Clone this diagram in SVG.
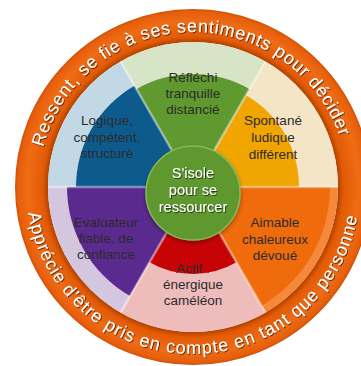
<svg xmlns="http://www.w3.org/2000/svg" width="361" height="366" viewBox="0 0 361 366">
<defs>
  <radialGradient id="ringGrad" gradientUnits="userSpaceOnUse" cx="193" cy="187" r="178">
    <stop offset="0.815" stop-color="#b04300"/>
    <stop offset="0.845" stop-color="#e25a06"/>
    <stop offset="0.93" stop-color="#f06c14"/>
    <stop offset="0.985" stop-color="#e65e0c"/>
    <stop offset="1" stop-color="#cf5006"/>
  </radialGradient>
  <filter id="shadow" x="-10%" y="-10%" width="120%" height="120%">
    <feDropShadow dx="0.8" dy="0.8" stdDeviation="0.5" flood-color="#000" flood-opacity="0.75"/>
  </filter>
  <filter id="cshadow" x="-20%" y="-20%" width="140%" height="140%">
    <feDropShadow dx="0" dy="2" stdDeviation="2" flood-color="#000" flood-opacity="0.35"/>
  </filter>
  <path id="topArc" d="M 38.21 178.89 A 155 155 0 0 1 346.85 168.11"/>
  <path id="botArc" d="M 26.51 200.10 A 167 167 0 0 0 359.23 203.01"/>
</defs>
<style>
  .lbl { font-family: "Liberation Sans", Arial, sans-serif; font-size: 13.5px; fill: #2b2b2b; text-anchor: middle; }
  .rt { font-family: "Liberation Sans", Arial, sans-serif; font-size: 18px; fill: #ffffff; letter-spacing: 0.7px; }
  .rb { font-family: "Liberation Sans", Arial, sans-serif; font-size: 18px; fill: #ffffff; letter-spacing: 1px; }
  .ctr { font-family: "Liberation Sans", Arial, sans-serif; font-size: 14.5px; fill: #ffffff; text-anchor: middle; }
  .sep { stroke: #ffffff; stroke-opacity: 0.4; stroke-width: 2.5; }
</style>
<rect width="361" height="366" fill="#ffffff"/>

<g id="ring">
  <circle cx="193" cy="187" r="161.5" fill="none" stroke="url(#ringGrad)" stroke-width="33"/>
  <g id="ring-top-text" filter="url(#shadow)">
    <text class="rt"><textPath href="#topArc" startOffset="32.12">Res</textPath></text>
    <text class="rt"><textPath href="#topArc" startOffset="66.22">sent,</textPath></text>
    <text class="rt"><textPath href="#topArc" startOffset="114.45">se</textPath></text>
    <text class="rt"><textPath href="#topArc" startOffset="140.56">fie</textPath></text>
    <text class="rt"><textPath href="#topArc" startOffset="167.38">à</textPath></text>
    <text class="rt"><textPath href="#topArc" startOffset="183.79">ses</textPath></text>
    <text class="rt"><textPath href="#topArc" startOffset="219.6">sentiments</textPath></text>
    <text class="rt"><textPath href="#topArc" startOffset="319.33">pour</textPath></text>
    <text class="rt"><textPath href="#topArc" startOffset="363.86">décider</textPath></text>
  </g>
  <g id="ring-bottom-text" filter="url(#shadow)">
    <text class="rb"><textPath href="#botArc" startOffset="12.92">Apprécie</textPath></text>
    <text class="rb"><textPath href="#botArc" startOffset="97.95">d'être</textPath></text>
    <text class="rb"><textPath href="#botArc" startOffset="154.42">pris</textPath></text>
    <text class="rb"><textPath href="#botArc" startOffset="193.42">en</textPath></text>
    <text class="rb"><textPath href="#botArc" startOffset="221.44">compte</textPath></text>
    <text class="rb"><textPath href="#botArc" startOffset="292.46">en</textPath></text>
    <text class="rb"><textPath href="#botArc" startOffset="320.48">tant</textPath></text>
    <text class="rb"><textPath href="#botArc" startOffset="360.51">que</textPath></text>
    <text class="rb"><textPath href="#botArc" startOffset="399.54">personne</textPath></text>
  </g>
</g>

<g id="sector-yellow">
  <path d="M193 187 L338 187 A145 145 0 0 0 265.5 61.43 Z" fill="#f4e5c6"/>
  <path d="M193 187 L299 187 A106 106 0 0 0 246 95.2 Z" fill="#f0a500"/>
  <text class="lbl" x="273" y="125">Spontané</text>
  <text class="lbl" x="273" y="142">ludique</text>
  <text class="lbl" x="273" y="159">différent</text>
</g>

<g id="sector-green">
  <path d="M193 187 L265.5 61.43 A145 145 0 0 0 120.5 61.43 Z" fill="#d7e4c6"/>
  <path d="M193 187 L249.5 89.14 A113 113 0 0 0 136.5 89.14 Z" fill="#5f992f"/>
  <text class="lbl" x="193" y="82">Réfléchi</text>
  <text class="lbl" x="193" y="98">tranquille</text>
  <text class="lbl" x="193" y="114">distancié</text>
</g>

<g id="sector-blue">
  <path d="M193 187 L120.5 61.43 A145 145 0 0 0 48 187 Z" fill="#c2d8e4"/>
  <path d="M193 187 L134.5 85.68 A117 117 0 0 0 76 187 Z" fill="#0d5b8d"/>
  <text class="lbl" x="107" y="125">Logique,</text>
  <text class="lbl" x="107" y="142">compétent,</text>
  <text class="lbl" x="107" y="158">structuré</text>
</g>

<g id="sector-purple">
  <path d="M193 187 L48 187 A145 145 0 0 0 120.5 312.57 Z" fill="#d5c6df"/>
  <path d="M193 187 L67 187 A126 126 0 0 0 130 296.12 Z" fill="#5b2a8e"/>
  <text class="lbl" x="106" y="227">Evaluateur</text>
  <text class="lbl" x="106" y="243">fiable, de</text>
  <text class="lbl" x="106" y="259">confiance</text>
</g>

<g id="sector-red">
  <path d="M193 187 L120.5 312.57 A145 145 0 0 0 265.5 312.57 Z" fill="#efbcbc"/>
  <path d="M193 187 L149.5 262.34 A87 87 0 0 0 236.5 262.34 Z" fill="#c70405"/>
  <text class="lbl" x="193" y="273">Actif .</text>
  <text class="lbl" x="193" y="289">énergique</text>
  <text class="lbl" x="193" y="305">caméléon</text>
</g>

<g id="sector-orange">
  <path d="M193 187 L265.5 312.57 A145 145 0 0 0 338 187 Z" fill="#f5883a"/>
  <path d="M193 187 L261.5 305.64 A137 137 0 0 0 330 187 Z" fill="#f06b0c"/>
  <text class="lbl" x="275" y="227">Aimable</text>
  <text class="lbl" x="275" y="244">chaleureux</text>
  <text class="lbl" x="275" y="260">dévoué</text>
</g>

<g id="separators">
  <line class="sep" x1="193" y1="187" x2="338" y2="187"/>
  <line class="sep" x1="193" y1="187" x2="265.5" y2="61.43"/>
  <line class="sep" x1="193" y1="187" x2="120.5" y2="61.43"/>
  <line class="sep" x1="193" y1="187" x2="48" y2="187"/>
  <line class="sep" x1="193" y1="187" x2="120.5" y2="312.57"/>
  <line class="sep" x1="193" y1="187" x2="265.5" y2="312.57"/>
</g>

<g id="center">
  <circle cx="193" cy="193" r="47" fill="#5e982e" stroke="#86b856" stroke-width="1.5" filter="url(#cshadow)"/>
  <text class="ctr" x="193" y="178" filter="url(#shadow)">S'isole</text>
  <text class="ctr" x="193" y="195" filter="url(#shadow)">pour se</text>
  <text class="ctr" x="193" y="212" filter="url(#shadow)">ressourcer</text>
</g>
</svg>
